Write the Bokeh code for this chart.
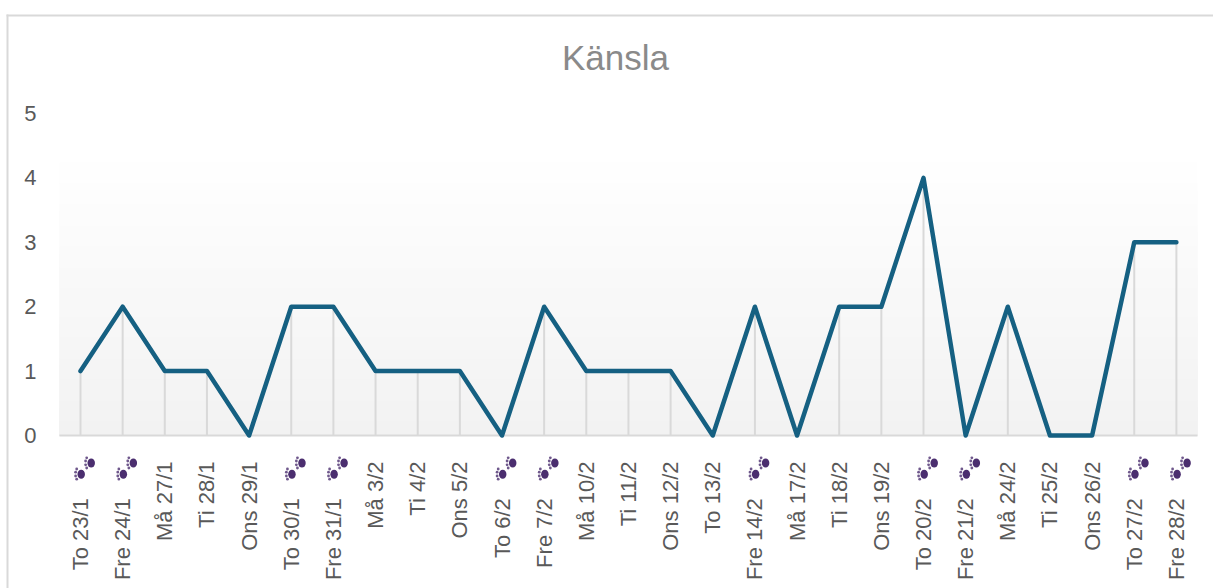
from bokeh.plotting import figure
from bokeh.models import Range1d, Label, BoxAnnotation, FixedTicker
from bokeh.embed import file_html
from bokeh.resources import INLINE

dates = ["To 23/1", "Fre 24/1", "Må 27/1", "Ti 28/1", "Ons 29/1", "To 30/1", "Fre 31/1", "Må 3/2", "Ti 4/2",
         "Ons 5/2", "To 6/2", "Fre 7/2", "Må 10/2", "Ti 11/2", "Ons 12/2", "To 13/2", "Fre 14/2", "Må 17/2",
         "Ti 18/2", "Ons 19/2", "To 20/2", "Fre 21/2", "Må 24/2", "Ti 25/2", "Ons 26/2", "To 27/2", "Fre 28/2"]
values = [1, 2, 1, 1, 0, 2, 2, 1, 1, 1, 0, 2, 1, 1, 1, 0, 2, 0, 2, 2, 4, 0, 2, 0, 0, 3, 3]
paw_days = [1, 1, 0, 0, 0, 1, 1, 0, 0, 0, 1, 1, 0, 0, 0, 0, 1, 0, 0, 0, 1, 1, 0, 0, 0, 1, 1]
y_ticks = [0, 1, 2, 3, 4, 5]

W, H = 1213, 588
X0, DX = 80.0, 42.15      # pixel of the first category, pixels per category
Y0, DY = 435.0, 64.4      # pixel of value 0, pixels per unit
xs = list(range(len(dates)))
zeros = [0] * len(values)

p = figure(width=W, height=H, output_backend="svg", toolbar_location=None,
           x_range=Range1d(-X0 / DX, (W - X0) / DX),
           y_range=Range1d((Y0 - H) / DY, Y0 / DY),
           min_border=0, background_fill_color="white", border_fill_color="white", outline_line_color=None)
p.xgrid.visible = False
p.ygrid.visible = False

# soft grey gradient behind the plot
n = 40
for i in range(n):
    top = 4.35 * (1 - i / n)
    g = round(255 - (255 - 242) * (i + 1) / n)
    p.add_layout(BoxAnnotation(left=-0.5, right=26.5, top=top, bottom=0, fill_color=(g, g, g),
                               fill_alpha=1, line_alpha=0, level="underlay"))

# chart frame
p.add_layout(BoxAnnotation(left=6, right=W, top=14, bottom=16, left_units="canvas", right_units="canvas",
                           top_units="canvas", bottom_units="canvas", fill_color="#d9d9d9", fill_alpha=1, line_alpha=0))
p.add_layout(BoxAnnotation(left=6, right=8, top=14, bottom=H, left_units="canvas", right_units="canvas",
                           top_units="canvas", bottom_units="canvas", fill_color="#d9d9d9", fill_alpha=1, line_alpha=0))

p.segment([-0.5], [0], [26.5], [0], line_color="#d9d9d9", line_width=2)
p.segment(xs, zeros, xs, values, line_color="#d9d9d9", line_width=2)
p.line(xs, values, line_color="#156082", line_width=4.5, line_join="round", line_cap="round")

# paw prints next to the date on the flagged days
PURPLE = "#4b2e6f"
paw_xs = [x for x, f in zip(xs, paw_days) if f]
for cx, cy in [(0.7, 473.7), (10.7, 462.5)]:
    px = [x + cx / DX for x in paw_xs]
    py = [(Y0 - cy) / DY] * len(paw_xs)
    p.ellipse(px, py, width=7.5, height=9, width_units="screen", height_units="screen",
              fill_color=PURPLE, line_color=None)
    for tx, ty in [(-4.5, -5.2), (-5.6, -2.0), (-5.6, 1.8), (-4.5, 5.0)]:
        tpx = [v + tx / DX for v in px]
        tpy = [(Y0 - cy - ty) / DY] * len(paw_xs)
        p.ellipse(tpx, tpy, width=2.8, height=2.8, width_units="screen", height_units="screen",
                  fill_color=PURPLE, fill_alpha=0.8, line_color=None)

p.add_layout(Label(x=615, y=H - 57, x_units="screen", y_units="screen", text="Känsla", text_align="center",
                   text_baseline="middle", text_font="Liberation Sans", text_font_size="35px", text_color="#8a8a8a"))

p.yaxis.fixed_location = -0.5
p.yaxis.ticker = FixedTicker(ticks=y_ticks)
p.yaxis.axis_line_color = None
p.yaxis.major_tick_line_color = None
p.yaxis.minor_tick_line_color = None
p.yaxis.major_label_text_font = "Liberation Sans"
p.yaxis.major_label_text_font_size = "22px"
p.yaxis.major_label_text_color = "#595959"
p.yaxis.major_label_standoff = 17

p.xaxis.fixed_location = 0
p.xaxis.ticker = FixedTicker(ticks=xs)
# non-breaking spaces reserve the room that the paw prints take in the label
p.xaxis.major_label_overrides = {x: d + ("\u00a0" * 6 if f else "") for x, d, f in zip(xs, dates, paw_days)}
p.xaxis.axis_line_color = None
p.xaxis.major_tick_line_color = None
p.xaxis.minor_tick_line_color = None
p.xaxis.major_label_orientation = 1.5708
p.xaxis.major_label_text_font = "Liberation Sans"
p.xaxis.major_label_text_font_size = "22px"
p.xaxis.major_label_text_color = "#595959"
p.xaxis.major_label_standoff = 20

open("out.html", "w").write(file_html(p, INLINE))
